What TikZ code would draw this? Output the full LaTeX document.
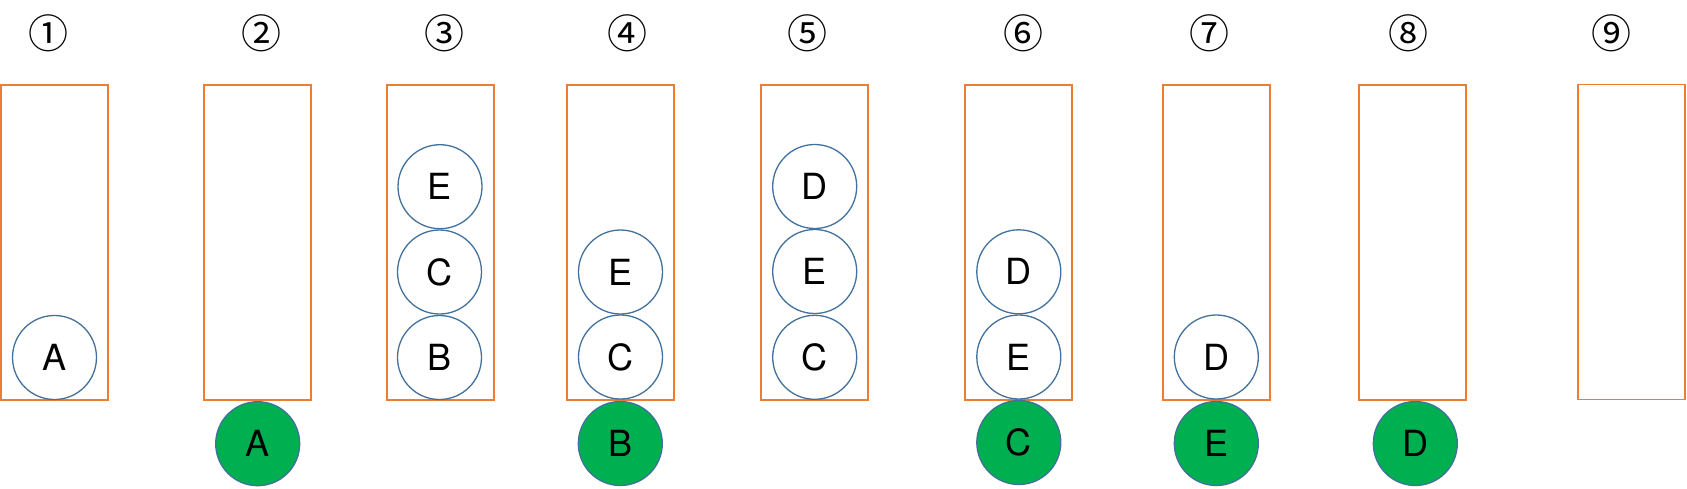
\documentclass[tikz,border=0pt]{standalone}
\usepackage{fontspec}
\setmainfont{Liberation Sans}
\newfontfamily\letterfont{TeX Gyre Heros}
\newfontfamily\symfont{Noto Sans CJK SC}
\definecolor{borange}{HTML}{ED7D31}
\definecolor{cblue}{HTML}{41719C}
\definecolor{popgreen}{HTML}{00B050}
\begin{document}
\begin{tikzpicture}[x=1pt,y=-1pt,
  stackbox/.style={draw=borange, line width=1.6pt, minimum width=107pt, minimum height=315pt, inner sep=0pt},
  ball/.style={circle, draw=cblue, line width=1.3pt, minimum size=84pt, inner sep=0pt, fill=white, font=\letterfont\fontsize{36}{36}\selectfont},
  popped/.style={ball, fill=popgreen},
  steplabel/.style={font=\symfont\fontsize{40}{40}\selectfont, inner sep=0pt}]
\useasboundingbox (0,0) rectangle (1687,488);
% step labels
\node[steplabel] (l1) at (48.5,33.5) {①};
\node[steplabel] (l2) at (261,33.5) {②};
\node[steplabel] (l3) at (444,33.5) {③};
\node[steplabel] (l4) at (627.7,33.5) {④};
\node[steplabel] (l5) at (807.3,33.5) {⑤};
\node[steplabel] (l6) at (1023.3,33.5) {⑥};
\node[steplabel] (l7) at (1209,33.5) {⑦};
\node[steplabel] (l8) at (1408.3,33.5) {⑧};
\node[steplabel] (l9) at (1611.7,33.5) {⑨};
% stacks
\node[stackbox] (s1) at (54.5,242.5) {};
\node[stackbox] (s2) at (257.5,242.5) {};
\node[stackbox] (s3) at (440.3,242.5) {};
\node[stackbox] (s4) at (620.3,242.5) {};
\node[stackbox] (s5) at (814.7,242.5) {};
\node[stackbox] (s6) at (1018.5,242.5) {};
\node[stackbox] (s7) at (1216.3,242.5) {};
\node[stackbox] (s8) at (1412.3,242.5) {};
\node[stackbox] (s9) at (1631.3,241.8) {};
% balls
\node[ball] (a1) at (54.5,357.5) {A};
\node[popped] (p2) at (257.7,443.7) {A};
\node[ball] (e3) at (440,186.7) {E};
\node[ball] (c3) at (439.5,272) {C};
\node[ball] (b3) at (439.5,357.5) {B};
\node[ball] (e4) at (620.5,272) {E};
\node[ball] (c4) at (620.5,357) {C};
\node[popped] (p4) at (620.3,443.5) {B};
\node[ball] (d5) at (814.7,186.5) {D};
\node[ball] (e5) at (814.7,271.5) {E};
\node[ball] (c5) at (814.7,357.3) {C};
\node[ball] (d6) at (1018.8,271.8) {D};
\node[ball] (e6) at (1018.8,357) {E};
\node[popped] (p6) at (1018.8,442.5) {C};
\node[ball] (d7) at (1216.3,357) {D};
\node[popped] (p7) at (1216.3,443.5) {E};
\node[popped] (p8) at (1415.3,443.5) {D};
\end{tikzpicture}
\end{document}
